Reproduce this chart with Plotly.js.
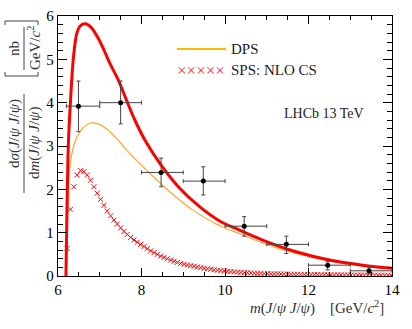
<!DOCTYPE html>
<html>
<head>
<meta charset="utf-8">
<script src="https://cdn.plot.ly/plotly-3.0.1.min.js"></script>
<style>
  html, body { margin: 0; padding: 0; background: #fff; }
  #chart { width: 412px; height: 329px; }
</style>
</head>
<body>
<div id="chart"></div>
<script>
// total (DPS + SPS), thick red curve
var total_x = [6.19, 6.22, 6.25, 6.30, 6.37, 6.45, 6.52, 6.64, 6.76, 6.84, 6.96, 7.08, 7.24, 7.44, 7.64, 7.84, 8.08, 8.47, 8.91, 9.39, 9.87, 10.3, 10.9, 11.7, 12.5, 13.3, 14.0];
var total_y = [0, 1.8, 3.1, 4.05, 5.05, 5.6, 5.76, 5.82, 5.77, 5.68, 5.49, 5.26, 4.91, 4.53, 4.06, 3.6, 3.14, 2.56, 2.03, 1.6, 1.27, 1.08, 0.83, 0.56, 0.37, 0.25, 0.18];

// DPS, thin orange curve
var dps_x = [6.19, 6.23, 6.27, 6.35, 6.45, 6.6, 6.75, 6.88, 7.0, 7.16, 7.4, 7.64, 7.9, 8.2, 8.67, 9.23, 9.79, 10.34, 10.9, 11.7, 12.5, 13.3, 14.0];
var dps_y = [0, 1.5, 2.4, 2.9, 3.2, 3.42, 3.52, 3.53, 3.5, 3.4, 3.18, 2.91, 2.65, 2.37, 1.95, 1.52, 1.2, 0.98, 0.76, 0.52, 0.35, 0.23, 0.17];

// SPS: NLO CS, red crosses
var sps_x = [6.22, 6.30, 6.38, 6.46, 6.54, 6.62, 6.70, 6.78, 6.86, 6.94, 7.02, 7.10, 7.18, 7.26, 7.34, 7.42, 7.50, 7.58, 7.66, 7.74,
             7.82, 7.90, 7.98, 8.06, 8.14, 8.22, 8.30, 8.38, 8.46, 8.54, 8.62, 8.70, 8.78, 8.86, 8.94, 9.02, 9.10, 9.18, 9.26, 9.34,
             9.42, 9.50, 9.58, 9.66, 9.74, 9.82, 9.90, 9.98, 10.06, 10.14, 10.22, 10.30, 10.38, 10.46, 10.54, 10.62, 10.70, 10.78, 10.86, 10.94,
             11.02, 11.10, 11.18, 11.26, 11.34, 11.42, 11.50, 11.58, 11.66, 11.74, 11.82, 11.90, 11.98, 12.06, 12.14, 12.22, 12.30, 12.38, 12.46, 12.54,
             12.62, 12.70, 12.78, 12.86, 12.94, 13.02, 13.10, 13.18, 13.26, 13.34, 13.42, 13.50, 13.58, 13.66, 13.74, 13.82, 13.90, 13.98];
var sps_y = [0.64, 1.54, 2.06, 2.33, 2.43, 2.41, 2.33, 2.21, 2.06, 1.91, 1.77, 1.63, 1.50, 1.39, 1.29, 1.20, 1.11, 1.03, 0.96, 0.89,
             0.83, 0.78, 0.73, 0.68, 0.63, 0.58, 0.54, 0.50, 0.46, 0.43, 0.40, 0.37, 0.34, 0.315, 0.29, 0.27, 0.255, 0.24, 0.225, 0.21,
             0.195, 0.178, 0.166, 0.155, 0.144, 0.134, 0.125, 0.117, 0.109, 0.102, 0.095, 0.089, 0.083, 0.078, 0.074, 0.070, 0.066, 0.063, 0.060, 0.057,
             0.054, 0.052, 0.050, 0.048, 0.046, 0.044, 0.042, 0.040, 0.039, 0.037, 0.036, 0.035, 0.034, 0.033, 0.032, 0.031, 0.030, 0.029, 0.028, 0.027,
             0.026, 0.026, 0.025, 0.024, 0.024, 0.023, 0.022, 0.022, 0.021, 0.021, 0.020, 0.020, 0.019, 0.019, 0.018, 0.018, 0.017, 0.017];

// LHCb data
var data_x = [6.49, 7.50, 8.47, 9.48, 10.46, 11.47, 12.46, 13.45];
var data_y = [3.92, 4.00, 2.39, 2.19, 1.15, 0.73, 0.25, 0.12];
var bin_lo = [6.2, 7.0, 8.0, 9.0, 10.0, 11.0, 12.0, 13.0];
var bin_hi = [7.0, 8.0, 9.0, 10.0, 11.0, 12.0, 13.0, 14.0];
var err_up = [0.58, 0.50, 0.33, 0.33, 0.22, 0.19, 0.08, 0.09];
var err_dn = [0.59, 0.49, 0.33, 0.32, 0.23, 0.21, 0.11, 0.07];

var ex_plus = data_x.map(function (x, i) { return bin_hi[i] - x; });
var ex_minus = data_x.map(function (x, i) { return x - bin_lo[i]; });

var serif = 'Liberation Serif, Times New Roman, serif';

// pixel position -> paper coords (plot area 58..392 x 16..276)
function px(x) { return (x - 58) / 334; }
function py(y) { return (276 - y) / 260; }

var traces = [
    {
        x: sps_x, y: sps_y, mode: 'markers', type: 'scatter',
        marker: {symbol: 'x-thin-open', size: 5, color: 'red', line: {color: 'red', width: 1}}
    },
    {
        x: dps_x, y: dps_y, mode: 'lines', type: 'scatter',
        line: {color: '#ffa530', width: 1.2, shape: 'spline'}
    },
    {
        x: total_x, y: total_y, mode: 'lines', type: 'scatter',
        line: {color: 'red', width: 3, shape: 'spline'}
    },
    {
        x: data_x, y: data_y, mode: 'markers', type: 'scatter',
        marker: {color: 'black', size: 5},
        error_x: {type: 'data', symmetric: false, array: ex_plus, arrayminus: ex_minus, color: '#444', thickness: 1, width: 2},
        error_y: {type: 'data', symmetric: false, array: err_up, arrayminus: err_dn, color: '#444', thickness: 1, width: 2}
    }
];

var axis_common = {
    showgrid: false, zeroline: false, showline: true, linecolor: 'black', linewidth: 1.3,
    mirror: 'allticks', ticks: 'inside', tickcolor: 'black', tickwidth: 1,
    tickfont: {family: serif, size: 15, color: 'black'}
};

var layout = {
    width: 412, height: 329,
    margin: {l: 58, r: 20, t: 16, b: 53},
    paper_bgcolor: 'white', plot_bgcolor: 'white',
    showlegend: false,
    xaxis: Object.assign({}, axis_common, {
        range: [6, 14], tick0: 6, dtick: 2, ticklen: 8,
        minor: {tick0: 6, dtick: 0.5, ticks: 'inside', ticklen: 4, tickcolor: 'black'}
    }),
    yaxis: Object.assign({}, axis_common, {
        range: [0, 6], tick0: 0, dtick: 1, ticklen: 9,
        minor: {tick0: 0, dtick: 0.2, ticks: 'inside', ticklen: 5, tickcolor: 'black'}
    }),
    shapes: [
        // legend line
        {type: 'line', xref: 'paper', yref: 'paper', x0: px(177), x1: px(226), y0: py(49), y1: py(49), line: {color: '#ffb800', width: 2}},
        // y title fraction bars
        {type: 'line', xref: 'paper', yref: 'paper', x0: px(24), x1: px(24), y0: py(94), y1: py(193), line: {color: '#444', width: 1}},
        {type: 'line', xref: 'paper', yref: 'paper', x0: px(24), x1: px(24), y0: py(27), y1: py(70), line: {color: '#444', width: 1}},
        // unit brackets
        {type: 'path', xref: 'paper', yref: 'paper', line: {color: '#444', width: 1},
         path: 'M ' + px(5) + ',' + py(72) + ' L ' + px(5) + ',' + py(76) + ' L ' + px(38) + ',' + py(76) + ' L ' + px(38) + ',' + py(72)},
        {type: 'path', xref: 'paper', yref: 'paper', line: {color: '#444', width: 1},
         path: 'M ' + px(5) + ',' + py(25) + ' L ' + px(5) + ',' + py(21) + ' L ' + px(38) + ',' + py(21) + ' L ' + px(38) + ',' + py(25)}
    ],
    annotations: [
        {xref: 'paper', yref: 'paper', x: px(229), y: py(49), xanchor: 'left', yanchor: 'middle', showarrow: false,
         text: 'DPS', font: {family: serif, size: 15, color: '#222'}},
        {xref: 'paper', yref: 'paper', x: px(201), y: py(70), xanchor: 'center', yanchor: 'middle', showarrow: false,
         text: '×××××', font: {family: serif, size: 17, color: '#ff3030'}},
        {xref: 'paper', yref: 'paper', x: px(229), y: py(70), xanchor: 'left', yanchor: 'middle', showarrow: false,
         text: 'SPS: NLO CS', font: {family: serif, size: 15, color: '#222'}},
        {xref: 'paper', yref: 'paper', x: px(324), y: py(113), xanchor: 'center', yanchor: 'middle', showarrow: false,
         text: 'LHCb 13 TeV', font: {family: serif, size: 14, color: '#222'}},
        {xref: 'paper', yref: 'paper', x: px(386), y: py(307), xanchor: 'right', yanchor: 'middle', showarrow: false,
         text: '<i>m</i>(<i>J</i>/<i>ψ J</i>/<i>ψ</i>)    [GeV/<i>c</i><sup>2</sup>]', font: {family: serif, size: 15, color: '#333'}},
        {xref: 'paper', yref: 'paper', x: px(14), y: py(133), xanchor: 'center', yanchor: 'middle', showarrow: false, textangle: -90,
         text: 'd<i>σ</i>(<i>J</i>/<i>ψ J</i>/<i>ψ</i>)', font: {family: serif, size: 15, color: '#333'}},
        {xref: 'paper', yref: 'paper', x: px(34), y: py(143), xanchor: 'center', yanchor: 'middle', showarrow: false, textangle: -90,
         text: 'd<i>m</i>(<i>J</i>/<i>ψ J</i>/<i>ψ</i>)', font: {family: serif, size: 15, color: '#333'}},
        {xref: 'paper', yref: 'paper', x: px(14), y: py(48), xanchor: 'center', yanchor: 'middle', showarrow: false, textangle: -90,
         text: 'nb', font: {family: serif, size: 15, color: '#333'}},
        {xref: 'paper', yref: 'paper', x: px(34), y: py(48), xanchor: 'center', yanchor: 'middle', showarrow: false, textangle: -90,
         text: 'GeV/<i>c</i><sup>2</sup>', font: {family: serif, size: 15, color: '#333'}}
    ]
};

Plotly.newPlot('chart', traces, layout, {staticPlot: true});
</script>
</body>
</html>
